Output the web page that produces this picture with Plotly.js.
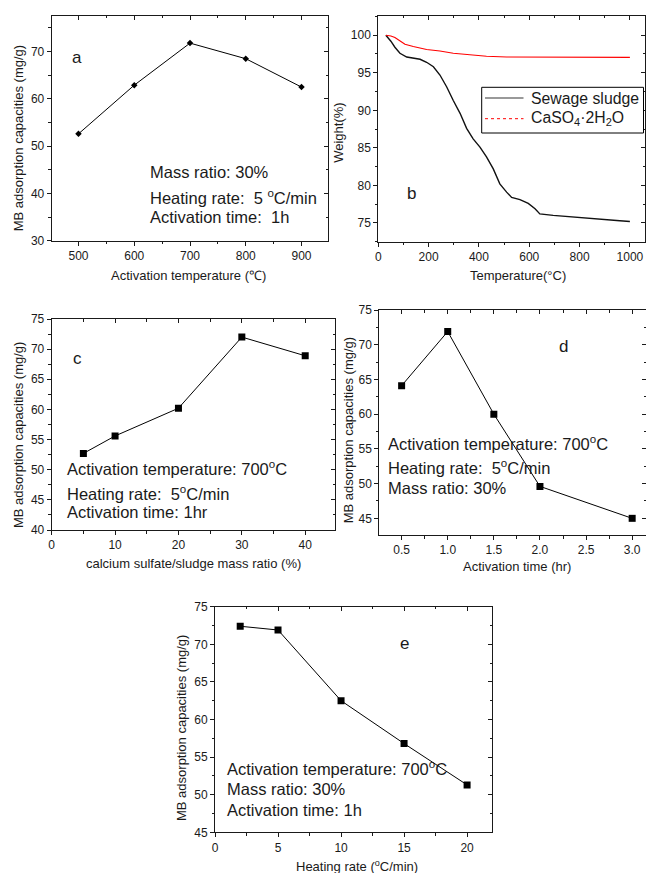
<!DOCTYPE html>
<html>
<head>
<meta charset="utf-8">
<script src="https://cdn.plot.ly/plotly-3.0.1.min.js"></script>
<style>html,body{margin:0;padding:0;background:#fff;}#chart{width:646px;height:873px;}</style>
</head>
<body>
<div id="chart"></div>
<script>
// ---------------- data ----------------
const aTemp = [500, 600, 700, 800, 900];
const aMB = [52.6, 62.9, 71.8, 68.5, 62.5];

const bSludgeT = [30, 50, 66, 86, 113, 140, 166, 192, 219, 245, 272, 298, 325, 351, 377, 404, 430, 457, 483, 510, 530, 563, 596, 623, 642, 695, 762, 828, 894, 960, 1000];
const bSludgeW = [100, 99.2, 98.4, 97.6, 97.1, 96.9, 96.8, 96.4, 95.8, 94.7, 93.1, 91.3, 89.6, 87.6, 86.2, 85.1, 83.8, 82.2, 80.2, 79.1, 78.4, 78.1, 77.6, 76.9, 76.2, 76.0, 75.8, 75.6, 75.4, 75.3, 75.2];
const bGypT = [30, 50, 66, 86, 106, 139, 192, 245, 298, 364, 430, 510, 600, 695, 800, 1000];
const bGypW = [100, 99.9, 99.7, 99.3, 98.8, 98.5, 98.1, 97.9, 97.6, 97.4, 97.2, 97.1, 97.08, 97.05, 97.05, 97.05];
const bNames = ['Sewage sludge', 'CaSO<sub>4</sub>·2H<sub>2</sub>O'];
const bColors = ['#111111', '#ff0000'];
const bLegendColors = ['#777777', '#ff0000'];

const cRatio = [5, 10, 20, 30, 40];
const cMB = [52.7, 55.6, 60.2, 72.0, 68.9];

const dTime = [0.5, 1.0, 1.5, 2.0, 3.0];
const dMB = [64.1, 71.9, 60.0, 49.6, 45.0];

const eRate = [2, 5, 10, 15, 20];
const eMB = [72.4, 71.9, 62.5, 56.8, 51.3];

const yTitleMB = 'MB adsorption capacities (mg/g)';
const xTitles = ['Activation temperature (℃)', 'Temperature(°C)', 'calcium sulfate/sludge mass ratio (%)', 'Activation time (hr)', 'Heating rate (<sup>o</sup>C/min)'];
const yTitles = [yTitleMB, 'Weight(%)', yTitleMB, yTitleMB, yTitleMB];
const panelLetters = ['a', 'b', 'c', 'd', 'e'];
const notesA = ['Mass ratio: 30%', 'Heating rate:\u00a0\u00a05 <sup>o</sup>C/min', 'Activation time:\u00a0\u00a01h'];
const notesC = ['Activation temperature: 700<sup>o</sup>C', 'Heating rate:\u00a0\u00a05<sup>o</sup>C/min', 'Activation time: 1hr'];
const notesD = ['Activation temperature: 700<sup>o</sup>C', 'Heating rate:\u00a0\u00a05<sup>o</sup>C/min', 'Mass ratio: 30%'];
const notesE = ['Activation temperature: 700<sup>o</sup>C', 'Mass ratio: 30%', 'Activation time: 1h'];

// ---------------- layout helpers ----------------
const W = 646, H = 873;
const FONT = 'Arial, "Liberation Sans", sans-serif';
const INK = '#1a1a1a';
const px = v => v / W;
const py = v => 1 - v / H;

// panel boxes in pixels [left, right, top, bottom]
const boxes = [
  [51.7, 328.3, 15.7, 240.7],
  [378.3, 645, 15.7, 241.7],
  [51.7, 335, 319, 530],
  [379.3, 646, 310, 535],
  [215, 492.3, 606.7, 832.3]
];
const xRanges = [[452, 948], [0, 1060], [0, 44.7], [0.258, 3.15], [0, 22]];
const yRanges = [[30, 77.6], [72.5, 102.6], [40, 75], [42.6, 75], [45, 75]];
const xTick = [[100, 50, 0], [200, 100, 0], [10, 5, 0], [0.5, 0.25, 0], [5, 2.5, 0]];
const yTick = [[10, 5, 0], [5, 2.5, 0], [5, 2.5, 0], [5, 2.5, 0], [5, 2.5, 0]];
const xFmt = ['d', 'd', 'd', '.1f', 'd'];

const layout = {
  width: W, height: H,
  margin: {l: 0, r: 0, t: 0, b: 0},
  paper_bgcolor: '#fff', plot_bgcolor: 'rgba(0,0,0,0)',
  font: {family: FONT, color: INK},
  showlegend: false,
  annotations: [],
  shapes: [],
  hovermode: false
};

function axisBase(range, dtick, minorDtick, tick0, dir, showLabels, fmt) {
  return {
    range: range, autorange: false,
    showline: true, linecolor: INK, linewidth: 1,
    ticks: dir, ticklen: 4, tickwidth: 1, tickcolor: INK,
    dtick: dtick, tick0: tick0, tickformat: fmt,
    showticklabels: showLabels,
    tickfont: {family: FONT, size: 12, color: INK},
    minor: {ticks: dir, ticklen: 2.5, tickwidth: 1, tickcolor: INK, dtick: minorDtick, tick0: tick0, showgrid: false},
    showgrid: false, zeroline: false, fixedrange: true
  };
}

for (let i = 0; i < 5; i++) {
  const [l, r, t, b] = boxes[i];
  const n = i + 1, m = i + 6;
  const xd = [px(l), px(r)], yd = [py(b), py(t)];
  const xa = axisBase(xRanges[i], xTick[i][0], xTick[i][1], xTick[i][2], 'outside', true, xFmt[i]);
  xa.domain = xd; xa.anchor = 'y' + (n === 1 ? '' : n);
  const ya = axisBase(yRanges[i], yTick[i][0], yTick[i][1], yTick[i][2], 'outside', true, 'd');
  ya.domain = yd; ya.anchor = 'x' + (n === 1 ? '' : n);
  layout['xaxis' + (n === 1 ? '' : n)] = xa;
  layout['yaxis' + (n === 1 ? '' : n)] = ya;
  // mirrored top/right axes with inward ticks
  const xt = axisBase(xRanges[i], xTick[i][0], xTick[i][1], xTick[i][2], 'inside', false, xFmt[i]);
  xt.domain = xd; xt.side = 'top'; xt.anchor = 'y' + m; xt.overlaying = 'x' + (n === 1 ? '' : n);
  const yt = axisBase(yRanges[i], yTick[i][0], yTick[i][1], yTick[i][2], 'inside', false, 'd');
  yt.domain = yd; yt.side = 'right'; yt.anchor = 'x' + m; yt.overlaying = 'y' + (n === 1 ? '' : n);
  layout['xaxis' + m] = xt;
  layout['yaxis' + m] = yt;
}

// axis titles
const xTitlePos = [[188.3, 275], [517.5, 275], [193.3, 563.3], [516.7, 566.7], [357.5, 865.5]];
const yTitlePos = [[18, 138.3], [338.3, 132.5], [18, 435], [348.3, 430], [181.7, 728.3]];
for (let i = 0; i < 5; i++) {
  layout.annotations.push({xref: 'paper', yref: 'paper', x: px(xTitlePos[i][0]), y: py(xTitlePos[i][1]),
    xanchor: 'center', yanchor: 'middle', showarrow: false, text: xTitles[i], font: {family: FONT, size: 13, color: INK}});
  layout.annotations.push({xref: 'paper', yref: 'paper', x: px(yTitlePos[i][0]), y: py(yTitlePos[i][1]),
    xanchor: 'center', yanchor: 'middle', showarrow: false, textangle: -90, text: yTitles[i], font: {family: FONT, size: 13, color: INK}});
}
// panel letters
const letterPos = [[77, 58], [411.7, 193], [77, 358], [563, 347], [404, 643]];
for (let i = 0; i < 5; i++) {
  layout.annotations.push({xref: 'paper', yref: 'paper', x: px(letterPos[i][0]), y: py(letterPos[i][1]),
    xanchor: 'center', yanchor: 'middle', showarrow: false, text: panelLetters[i], font: {family: FONT, size: 17, color: INK}});
}
// condition notes
function addNotes(lines, left, ys) {
  lines.forEach((t, k) => layout.annotations.push({xref: 'paper', yref: 'paper', x: px(left), y: py(ys[k]),
    xanchor: 'left', yanchor: 'middle', showarrow: false, text: t, font: {family: FONT, size: 16.5, color: INK}}));
}
addNotes(notesA, 148, [172, 197, 217]);
addNotes(notesC, 65, [468, 493, 512]);
addNotes(notesD, 386, [443, 467, 488]);
addNotes(notesE, 225, [768, 789, 810]);

// legend for panel b (boxed, as in the reference)
layout.shapes.push({type: 'rect', xref: 'paper', yref: 'paper', x0: px(481.7), x1: px(643.5), y0: py(133), y1: py(87.3),
  line: {color: '#000', width: 1}, fillcolor: '#fff', layer: 'above'});
const legRows = [98, 118.7];
for (let k = 0; k < 2; k++) {
  layout.shapes.push({type: 'line', xref: 'paper', yref: 'paper', x0: px(485), x1: px(523.5), y0: py(legRows[k]), y1: py(legRows[k]),
    line: {color: bLegendColors[k], width: k === 0 ? 1.6 : 1, dash: k === 0 ? 'solid' : 'dot'}, layer: 'above'});
  layout.annotations.push({xref: 'paper', yref: 'paper', x: px(528.5), y: py(legRows[k]), xanchor: 'left', yanchor: 'middle',
    showarrow: false, text: bNames[k], font: {family: FONT, size: 15.8, color: INK}});
}

// ---------------- traces ----------------
const lineStyle = {color: '#000', width: 1};
const sq = {symbol: 'square', size: 7, color: '#000'};
const traces = [
  {x: aTemp, y: aMB, xaxis: 'x', yaxis: 'y', mode: 'lines+markers', line: lineStyle,
   marker: {symbol: 'diamond', size: 5, color: '#000'}},
  {x: bSludgeT, y: bSludgeW, xaxis: 'x2', yaxis: 'y2', mode: 'lines', name: 'Sewage sludge',
   line: {color: bColors[0], width: 1.4}},
  {x: bGypT, y: bGypW, xaxis: 'x2', yaxis: 'y2', mode: 'lines', name: 'CaSO4·2H2O',
   line: {color: bColors[1], width: 1.2}},
  {x: cRatio, y: cMB, xaxis: 'x3', yaxis: 'y3', mode: 'lines+markers', line: lineStyle, marker: sq},
  {x: dTime, y: dMB, xaxis: 'x4', yaxis: 'y4', mode: 'lines+markers', line: lineStyle, marker: sq},
  {x: eRate, y: eMB, xaxis: 'x5', yaxis: 'y5', mode: 'lines+markers', line: lineStyle, marker: sq}
];
for (let m = 6; m <= 10; m++) {
  traces.push({x: [], y: [], xaxis: 'x' + m, yaxis: 'y' + m, mode: 'lines', hoverinfo: 'skip'});
}

Plotly.newPlot('chart', traces, layout, {staticPlot: true, displayModeBar: false});
</script>
</body>
</html>
